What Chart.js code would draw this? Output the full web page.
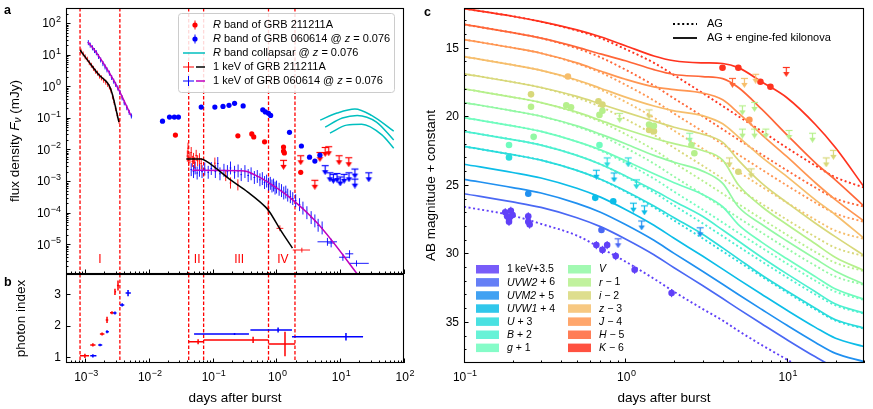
<!DOCTYPE html>
<html>
<head>
<meta charset="utf-8">
<script src="https://cdn.jsdelivr.net/npm/chart.js@4.4.1/dist/chart.umd.min.js"></script>
<style>
  html, body { margin: 0; padding: 0; background: #fff; }
  #wrap { position: relative; width: 873px; height: 409px; overflow: hidden; }
  canvas { position: absolute; }
</style>
</head>
<body>
<div id="wrap">
  <canvas id="panelA" width="420" height="280" style="left:0;top:0"></canvas>
  <canvas id="panelB" width="420" height="139" style="left:0;top:270px"></canvas>
  <canvas id="panelC" width="453" height="409" style="left:420px;top:0"></canvas>
</div>
<script>
const FONT = '"Liberation Sans", Arial, Helvetica, sans-serif';
Chart.defaults.font.family = FONT;

// ---------- panel a : flux density (days, mJy) ----------
const phaseEdges = [8.3e-4, 3.5e-3, 0.042, 0.072, 0.75, 1.95];
const phaseNames = ['I', 'II', 'III', 'IV'];
const phaseNameDays = [1.7e-3, 0.057, 0.26, 1.26];
const phaseNameFlux = 3.2e-6;

// 1 keV of GRB 211211A  ([t, f] or [t, f, tLo, tHi, fLo, fHi])
const xrt211Early = [[8.6e-4, 13], [9.3e-4, 10.5], [1.0e-3, 8.5], [1.08e-3, 7.2], [1.16e-3, 5.6], [1.25e-3, 4.6],
  [1.35e-3, 3.7], [1.45e-3, 3.0], [1.56e-3, 2.6], [1.68e-3, 2.1], [1.8e-3, 1.85], [1.95e-3, 1.55], [2.1e-3, 1.35],
  [2.25e-3, 1.15], [2.4e-3, 0.95], [2.55e-3, 0.72], [2.7e-3, 0.46], [2.85e-3, 0.31], [3.0e-3, 0.2], [3.2e-3, 0.12], [3.4e-3, 0.078]];
const xrt211Late = [[0.040, 6.2e-3], [0.041, 1.1e-2], [0.042, 4.5e-3], [0.044, 5.5e-3], [0.046, 8e-3], [0.048, 4.2e-3],
  [0.050, 5.2e-3], [0.052, 3.8e-3], [0.055, 6.5e-3], [0.058, 4.4e-3], [0.062, 5.1e-3], [0.066, 3.6e-3], [0.108, 3.7e-3],
  [0.16, 1.5e-3], [0.19, 8.7e-4], [0.248, 7.6e-4],
  [0.74, 1.4e-4, 0.70, 0.78, 9e-5, 2.1e-4], [1.13, 3.2e-5, 1.0, 1.28, 2.6e-5, 4e-5], [2.5, 6.6e-6, 1.8, 3.36, 5.5e-6, 7.8e-6]];
const model211Early = [[8.3e-4, 14], [1.15e-3, 5.8], [1.65e-3, 2.26], [2.36e-3, 1.09], [2.63e-3, 0.61], [3.38e-3, 0.074]];
const model211Late = [[0.0385, 5.0e-3], [0.066, 5.0e-3], [0.08, 4.2e-3], [0.193, 1.07e-3], [0.355, 4.5e-4], [0.676, 1.5e-4],
  [0.78, 1.05e-4], [1.16, 2.8e-5], [1.78, 7.6e-6]];

// 1 keV of GRB 060614 @ z = 0.076
const xrt060Early = [[1.12e-3, 24], [1.2e-3, 20], [1.3e-3, 16.5], [1.4e-3, 13.5], [1.5e-3, 11.5], [1.62e-3, 8.8], [1.75e-3, 6.8],
  [1.9e-3, 5.2], [2.05e-3, 4.1], [2.2e-3, 3.3], [2.4e-3, 2.6], [2.6e-3, 1.9], [2.8e-3, 1.45], [3.0e-3, 1.15], [3.25e-3, 0.88],
  [3.5e-3, 0.64], [3.8e-3, 0.43], [4.1e-3, 0.3], [4.5e-3, 0.21], [4.9e-3, 0.15], [5.3e-3, 0.115]];
const xrt060Late = [[0.046, 2.3e-3], [0.05, 2.0e-3], [0.053, 2.6e-3], [0.057, 1.8e-3], [0.062, 2.2e-3], [0.068, 2.0e-3],
  [0.075, 2.4e-3], [0.085, 1.9e-3], [0.095, 2.5e-3], [0.11, 2.0e-3], [0.12, 3.6e-3], [0.13, 1.7e-3], [0.15, 2.2e-3],
  [0.17, 2.0e-3], [0.19, 2.6e-3], [0.22, 1.9e-3], [0.25, 2.1e-3], [0.28, 1.6e-3], [0.32, 2.0e-3], [0.36, 1.5e-3],
  [0.4, 1.7e-3], [0.45, 1.3e-3], [0.5, 1.4e-3], [0.55, 1.1e-3], [0.6, 1.2e-3], [0.65, 9e-4], [0.7, 1.0e-3], [0.75, 8e-4],
  [0.8, 8.5e-4], [0.85, 7e-4], [0.9, 7.5e-4], [0.95, 6e-4], [1.0, 6.5e-4], [1.1, 5.5e-4], [1.2, 5e-4], [1.3, 4.2e-4],
  [1.4, 4.5e-4], [1.5, 3.6e-4], [1.65, 3.2e-4], [1.8, 2.8e-4], [2.0, 2.4e-4], [2.3, 1.8e-4], [2.6, 1.4e-4], [3.0, 1.0e-4],
  [3.5, 7e-5], [4.0, 5.5e-5], [4.5, 4e-5], [5.2, 3.3e-5],
  [6.3, 1.2e-5, 4.4, 8.9, 9e-6, 1.6e-5], [7.2, 1.1e-5, 6.3, 8.2, 8e-6, 1.5e-5], [11, 3.9e-6, 9.6, 14, 3e-6, 5e-6],
  [14, 5e-6, 12, 16, 3.6e-6, 6.5e-6], [18, 2.5e-6, 14, 28, 2e-6, 3.1e-6]];
const model060Early = [[1.11e-3, 25], [1.48e-3, 12], [2.36e-3, 2.8], [3.38e-3, 0.76], [5.2e-3, 0.12]];
const model060Late = [[0.048, 2.2e-3], [0.32, 2.1e-3], [0.45, 1.6e-3], [0.65, 1.07e-3], [1.66, 2.9e-4], [4.36, 4.7e-5],
  [18.2, 1.2e-6], [25, 5e-7]];

// R band optical
const rBand211 = [[0.026, 0.0286], [0.248, 0.027], [0.41, 0.031], [0.44, 0.025], [0.65, 0.0175], [1.29, 0.012],
  [1.29, 8.9e-3], [1.33, 7.8e-3], [2.4, 1.9e-3]];
const rBand211Lim = [[1.29, 4.7e-3], [2.4, 6.6e-3], [4.8, 8.3e-3], [5.8, 0.012], [6.6, 0.0127], [9.6, 6.6e-3],
  [13.6, 5.7e-3], [4.0, 1.1e-3]];
const rBand060 = [[0.0163, 0.079], [0.021, 0.106], [0.025, 0.106], [0.029, 0.106], [0.066, 0.22], [0.108, 0.22],
  [0.145, 0.23], [0.18, 0.25], [0.22, 0.29], [0.30, 0.24], [0.61, 0.18], [0.67, 0.155], [0.75, 0.14], [0.81, 0.12],
  [1.6, 0.035], [2.46, 0.0129], [3.3, 5.7e-3], [4.0, 4.3e-3], [4.8, 6.6e-3]];
const rBand060Lim = [[5.8, 3.2e-3], [6.9, 1.9e-3], [7.8, 1.7e-3], [8.9, 1.8e-3], [10, 1.4e-3], [11.5, 1.7e-3],
  [13.7, 1.9e-3], [17, 2.5e-3], [17, 1.2e-3], [28, 1.9e-3]];
const collapsar1 = [[4.85, 0.085], [8.9, 0.142], [17, 0.19], [31, 0.12], [69, 0.038]];
const collapsar2 = [[5.8, 0.051], [10.8, 0.099], [18.5, 0.12], [37, 0.074], [69, 0.02]];
const collapsar3 = [[6.9, 0.033], [12.6, 0.059], [21.7, 0.063], [45, 0.029], [69, 0.011]];

// ---------- panel b : photon index  [t, index, tLo, tHi, iLo, iHi] ----------
const photon211 = [[9.9e-4, 1.03, 8.3e-4, 1.15e-3, 0.96, 1.10], [1.32e-3, 1.38, 1.2e-3, 1.45e-3, 1.33, 1.43],
  [1.84e-3, 1.73, 1.7e-3, 2.0e-3, 1.68, 1.78], [2.2e-3, 2.18, 2.1e-3, 2.3e-3, 2.08, 2.28],
  [2.63e-3, 2.41, 2.45e-3, 2.8e-3, 2.36, 2.46], [2.93e-3, 3.08, 2.85e-3, 3.05e-3, 2.98, 3.18],
  [3.27e-3, 3.28, 3.15e-3, 3.4e-3, 3.12, 3.44], [0.059, 1.48, 0.042, 0.072, 1.40, 1.56],
  [0.43, 1.54, 0.072, 0.75, 1.44, 1.64], [1.36, 1.41, 0.75, 1.95, 1.02, 1.80]];
const photon060 = [[1.32e-3, 1.03, 1.2e-3, 1.5e-3, 0.98, 1.08], [1.71e-3, 1.38, 1.6e-3, 1.85e-3, 1.34, 1.42],
  [2.2e-3, 1.80, 2.1e-3, 2.35e-3, 1.75, 1.85], [2.93e-3, 2.40, 2.75e-3, 3.1e-3, 2.35, 2.45],
  [3.8e-3, 2.66, 3.5e-3, 4.1e-3, 2.61, 2.71], [4.7e-3, 3.04, 4.3e-3, 5.2e-3, 2.94, 3.14],
  [0.22, 1.73, 0.051, 0.37, 1.70, 1.76], [1.06, 1.86, 0.39, 1.75, 1.78, 1.94], [12.3, 1.64, 1.75, 22.8, 1.52, 1.76]];

// ---------- panel c : AB magnitude + constant ----------
const magDays = [0.1, 0.2, 0.3, 0.5, 0.7, 1, 1.5, 2, 3, 4, 5, 7, 10, 15, 20, 30];
// afterglow only (dotted)
const agKeV = [26.6, 27.25, 27.85, 28.7, 29.6, 30.6, 31.85, 32.8, 34.05, 34.9, 35.65, 36.7, 37.75, 39.0, 39.8, 40.9];
const agU = [22.2, 22.8, 23.2, 23.95, 24.6, 25.5, 26.65, 27.6, 28.9, 29.85, 30.6, 31.7, 32.85, 34.1, 34.9, 35.5];
const agB = [21.1, 21.7, 22.1, 22.85, 23.5, 24.4, 25.55, 26.5, 27.8, 28.75, 29.5, 30.6, 31.75, 33.0, 33.8, 34.4];
const agG = [20.1, 20.7, 21.1, 21.85, 22.5, 23.4, 24.55, 25.5, 26.8, 27.75, 28.5, 29.6, 30.75, 32.0, 32.8, 33.4];
const agV = [19.0, 19.6, 20.0, 20.75, 21.4, 22.3, 23.45, 24.4, 25.7, 26.65, 27.4, 28.5, 29.65, 30.9, 31.7, 32.3];
const agR = [18.0, 18.6, 19.0, 19.75, 20.4, 21.3, 22.45, 23.4, 24.7, 25.65, 26.4, 27.5, 28.65, 29.9, 30.7, 31.3];
const agI = [16.9, 17.5, 17.9, 18.65, 19.3, 20.2, 21.35, 22.3, 23.6, 24.55, 25.3, 26.4, 27.55, 28.8, 29.6, 30.2];
const agZ = [15.65, 16.25, 16.65, 17.4, 18.05, 18.95, 20.1, 21.05, 22.35, 23.3, 24.05, 25.15, 26.3, 27.55, 28.35, 28.95];
const agJ = [14.4, 15.0, 15.4, 16.15, 16.8, 17.7, 18.85, 19.8, 21.1, 22.05, 22.8, 23.9, 25.05, 26.3, 27.1, 27.7];
const agH = [13.3, 13.9, 14.3, 15.05, 15.7, 16.6, 17.75, 18.7, 20.0, 20.95, 21.7, 22.8, 23.95, 25.2, 26.0, 26.6];
const agK = [12.15, 12.7, 13.1, 13.75, 14.3, 15.1, 16.1, 17.0, 18.3, 19.25, 20.0, 21.1, 22.3, 23.6, 24.45, 25.2];
// afterglow + engine-fed kilonova (solid)
const knUVW2 = [25.65, 26.25, 26.65, 27.4, 28.05, 28.95, 30.1, 31.05, 32.35, 33.3, 34.05, 35.15, 36.3, 37.55, 38.35, 38.95];
const knUVM2 = [24.6, 25.2, 25.6, 26.35, 27.0, 27.9, 29.05, 30.0, 31.3, 32.25, 33.0, 34.1, 35.25, 36.5, 37.3, 37.9];
const knUVW1 = [23.5, 24.1, 24.5, 25.25, 25.9, 26.8, 27.95, 28.9, 30.2, 31.15, 31.9, 33.0, 34.15, 35.4, 36.2, 36.8];
const knU = [22.2, 22.8, 23.2, 23.95, 24.6, 25.45, 26.55, 27.4, 28.6, 29.6, 30.4, 31.6, 32.75, 34.0, 34.85, 35.45];
const knB = [21.1, 21.7, 22.1, 22.85, 23.5, 24.35, 25.4, 26.2, 27.3, 28.3, 29.1, 30.3, 31.5, 32.8, 33.7, 34.35];
const knG = [20.1, 20.7, 21.1, 21.85, 22.45, 23.25, 24.2, 24.85, 25.7, 26.6, 27.9, 29.2, 30.4, 31.7, 32.6, 33.35];
const knV = [19.0, 19.6, 20.0, 20.7, 21.3, 22.0, 22.85, 23.35, 24.0, 24.9, 26.6, 27.9, 29.1, 30.4, 31.3, 32.25];
const knR = [18.0, 18.6, 19.0, 19.7, 20.3, 20.95, 21.6, 22.0, 22.5, 23.2, 25.0, 26.6, 27.9, 29.3, 30.3, 31.25];
const knI = [16.9, 17.5, 17.9, 18.55, 19.1, 19.7, 20.35, 20.8, 21.3, 21.9, 23.2, 24.9, 26.3, 27.8, 28.8, 30.15];
const knZ = [15.65, 16.25, 16.65, 17.35, 17.95, 18.6, 19.25, 19.6, 19.95, 20.55, 21.5, 23.0, 24.4, 26.1, 27.2, 28.9];
const knJ = [14.4, 15.0, 15.4, 16.1, 16.7, 17.3, 17.85, 18.05, 18.3, 18.8, 19.75, 21.35, 22.95, 24.85, 26.1, 27.65];
const knH = [13.3, 13.9, 14.3, 14.95, 15.45, 15.95, 16.6, 16.95, 17.1, 17.25, 17.9, 19.5, 21.35, 23.4, 24.65, 26.55];
const knK = [12.15, 12.7, 13.1, 13.7, 14.2, 14.85, 15.6, 15.95, 16.1, 16.15, 16.45, 17.5, 18.65, 20.6, 22.3, 25.15];

const bandKeys = ['keV', 'UVW2', 'UVM2', 'UVW1', 'U', 'B', 'g', 'V', 'r', 'i', 'z', 'J', 'H', 'K'];
const bandColors = ['#6040f8', '#4a68f4', '#2090f0', '#0cbde8', '#2adcdc', '#4cf0d0', '#70fcbe', '#92f8a4',
  '#b6f08c', '#d8d87a', '#f6be6c', '#ff9652', '#ff6638', '#ff321e'];
const bandLabels = [
  [['1\u2009keV+3.5', 'n']], [['UVW2', 'i'], [' + 6', 'n']], [['UVM2', 'i'], [' + 5', 'n']], [['UVW1', 'i'], [' + 4', 'n']],
  [['U', 'i'], [' + 3', 'n']], [['B', 'i'], [' + 2', 'n']], [['g', 'i'], [' + 1', 'n']], [['V', 'i']],
  [['r', 'i'], [' \u2212 1', 'n']], [['i', 'i'], [' \u2212 2', 'n']], [['z', 'i'], [' \u2212 3', 'n']],
  [['J', 'i'], [' \u2212 4', 'n']], [['H', 'i'], [' \u2212 5', 'n']], [['K', 'i'], [' \u2212 6', 'n']]];
const agCurves = [agKeV, null, null, null, agU, agB, agG, agV, agR, agI, agZ, agJ, agH, agK];
const knCurves = [null, knUVW2, knUVM2, knUVW1, knU, knB, knG, knV, knR, knI, knZ, knJ, knH, knK];

// observed points [band, days, mag]
const magDetections = [
  ['K', 3.99, 16.46], ['K', 5.0, 16.46], ['K', 6.85, 17.48], ['K', 7.9, 17.85], ['J', 5.85, 20.25], ['z', 0.44, 17.1],
  ['i', 0.26, 18.4], ['i', 0.68, 18.9], ['i', 0.72, 19.15], ['i', 1.4, 21.0], ['i', 1.5, 21.1], ['i', 5.0, 24.05],
  ['r', 0.26, 19.3], ['r', 0.43, 19.2], ['r', 0.46, 19.35], ['r', 0.69, 19.9], ['r', 0.72, 19.6], ['r', 1.4, 20.6],
  ['r', 1.5, 20.7], ['r', 2.56, 22.1], ['r', 2.67, 22.7], ['V', 0.27, 21.5], ['g', 0.19, 22.1], ['g', 0.69, 22.1],
  ['U', 0.19, 23.0], ['UVM2', 0.25, 25.65], ['UVW1', 0.65, 25.95], ['UVW1', 0.84, 26.2], ['UVW2', 0.71, 28.3],
  ['keV', 0.18, 27.0], ['keV', 0.185, 27.3], ['keV', 0.19, 27.5], ['keV', 0.195, 26.9], ['keV', 0.2, 27.2],
  ['keV', 0.19, 27.7], ['keV', 0.25, 27.3], ['keV', 0.25, 27.7], ['keV', 0.255, 27.9], ['keV', 0.66, 29.4],
  ['keV', 0.72, 29.75], ['keV', 0.77, 29.4], ['keV', 0.87, 30.2], ['keV', 1.14, 31.2], ['keV', 1.93, 32.9]];
const magLimits = [
  ['K', 9.9, 16.4], ['H', 4.6, 17.2], ['z', 5.45, 17.2], ['z', 6.4, 16.9], ['r', 5.3, 19.2], ['r', 6.3, 18.95],
  ['r', 0.92, 19.75], ['r', 10.3, 21.0], ['r', 14.4, 21.2], ['r', 5.3, 20.9], ['r', 6.3, 20.9], ['r', 7.4, 20.9],
  ['V', 2.5, 21.2], ['i', 4.4, 23.0], ['i', 6.0, 23.8], ['i', 17.5, 23.0], ['i', 19.4, 22.45], ['i', 1.4, 19.5],
  ['U', 0.77, 23.0], ['U', 1.04, 23.0], ['U', 1.17, 24.6], ['UVW1', 0.66, 23.9], ['UVW1', 0.85, 24.1],
  ['UVW1', 1.12, 26.3], ['UVW1', 1.31, 26.5], ['UVM2', 1.26, 27.6], ['UVM2', 2.9, 28.1], ['UVW2', 0.9, 28.9]];

// ---------- helpers ----------
function withErr(rows, tFac, fFac) {
  return rows.map(r => r.length > 2
    ? { x: r[0], y: r[1], xl: r[2], xh: r[3], yl: r[4], yh: r[5] }
    : { x: r[0], y: r[1], xl: r[0] / tFac, xh: r[0] * tFac, yl: r[1] / fFac, yh: r[1] * fFac });
}
const xy = rows => rows.map(r => ({ x: r[0], y: r[1] }));

function ulMarker(color, w, len) {
  const c = document.createElement('canvas');
  c.width = w; c.height = len * 2;
  const g = c.getContext('2d');
  g.strokeStyle = color; g.fillStyle = color; g.lineWidth = 1.2;
  const mid = w / 2;
  g.beginPath(); g.moveTo(1, len + 0.5); g.lineTo(w - 1, len + 0.5); g.stroke();
  g.beginPath(); g.moveTo(mid, len); g.lineTo(mid, len + len - 4); g.stroke();
  g.beginPath(); g.moveTo(mid - 3.2, len + len - 5); g.lineTo(mid + 3.2, len + len - 5); g.lineTo(mid, len + len); g.closePath(); g.fill();
  return c;
}

function lineDs(rows, color, width, dash) {
  return { data: xy(rows), showLine: true, borderColor: color, borderWidth: width, borderDash: dash || [],
    pointRadius: 0, cubicInterpolationMode: 'monotone', fill: false };
}
function crossDs(rows, color, width) {
  return { data: rows, showLine: false, pointRadius: 0, errorBars: { color, width } };
}
function dotDs(rows, color, r) {
  return { data: rows, showLine: false, pointRadius: r, pointBackgroundColor: color, pointBorderWidth: 0,
    errorBars: { color, width: 1 } };
}
function limitDs(rows, color, w, len) {
  return { data: xy(rows), showLine: false, pointStyle: ulMarker(color, w, len), pointRadius: 5 };
}

function logTicks(min, max) {
  const major = [], minor = [];
  for (let e = Math.floor(Math.log10(min)) - 1; e <= Math.ceil(Math.log10(max)); e++) {
    for (let m = 1; m < 10; m++) {
      const v = m * Math.pow(10, e);
      if (v < min * 0.999 || v > max * 1.001) continue;
      (m === 1 ? major : minor).push(v);
    }
  }
  return { major, minor };
}

function sciLabel(ctx, exp, x, y, size, align) {
  const sup = Math.round(size * 0.72);
  ctx.font = size + 'px ' + FONT;
  const w1 = ctx.measureText('10').width;
  const es = exp < 0 ? '\u2212' + Math.abs(exp) : String(exp);
  ctx.font = sup + 'px ' + FONT;
  const w2 = ctx.measureText(es).width;
  const tw = w1 + w2 + 0.5;
  const left = align === 'right' ? x - tw : x - tw / 2;
  ctx.textAlign = 'left'; ctx.textBaseline = 'alphabetic';
  const base = y + size * 0.36;
  ctx.font = size + 'px ' + FONT; ctx.fillText('10', left, base);
  ctx.font = sup + 'px ' + FONT; ctx.fillText(es, left + w1 + 0.5, base - size * 0.45);
}

function rich(ctx, parts, x, y, size, align) {
  const fontFor = s => (s === 'i' || s === 's' ? 'italic ' : '') + (s === 's' ? Math.round(size * 0.72) : size) + 'px ' + FONT;
  let w = 0;
  parts.forEach(([t, s]) => { ctx.font = fontFor(s); w += ctx.measureText(t).width; });
  let cx = align === 'center' ? x - w / 2 : (align === 'right' ? x - w : x);
  ctx.textAlign = 'left'; ctx.textBaseline = 'middle';
  parts.forEach(([t, s]) => {
    ctx.font = fontFor(s);
    ctx.fillText(t, cx, s === 's' ? y + size * 0.25 : y);
    cx += ctx.measureText(t).width;
  });
}

function drawAxes(chart, o) {
  const { ctx, chartArea: a, scales: { x, y } } = chart;
  ctx.save();
  ctx.strokeStyle = '#000'; ctx.fillStyle = '#000'; ctx.lineWidth = 1;
  const seg = (x1, y1, x2, y2) => { ctx.beginPath(); ctx.moveTo(x1, y1); ctx.lineTo(x2, y2); ctx.stroke(); };
  const px = v => Math.round(x.getPixelForValue(v)) + 0.5;
  const py = v => Math.round(y.getPixelForValue(v)) + 0.5;
  o.xMajor.forEach(v => seg(px(v), a.bottom, px(v), a.bottom - 4.5));
  o.xMinor.forEach(v => seg(px(v), a.bottom, px(v), a.bottom - 2.5));
  o.yMajor.forEach(v => seg(a.left, py(v), a.left + 4.5, py(v)));
  o.yMinor.forEach(v => seg(a.left, py(v), a.left + 2.5, py(v)));
  ctx.lineWidth = 1.1;
  ctx.strokeRect(a.left + 0.5, a.top + 0.5, a.right - a.left - 1, a.bottom - a.top - 1);
  if (o.xLabels) o.xMajor.forEach(v => sciLabel(ctx, Math.round(Math.log10(v)), x.getPixelForValue(v) + 1, o.xLabelY, 12, 'center'));
  if (o.yLabels) o.yMajor.forEach(v => {
    const yy = y.getPixelForValue(v);
    if (o.yLog) sciLabel(ctx, Math.round(Math.log10(v)), a.left - 5, yy, 12, 'right');
    else { ctx.font = '12px ' + FONT; ctx.textAlign = 'right'; ctx.textBaseline = 'middle'; ctx.fillText(String(v), a.left - 5, yy + 0.5); }
  });
  if (o.xTitle) { ctx.font = '13.5px ' + FONT; ctx.textAlign = 'center'; ctx.textBaseline = 'middle'; ctx.fillText(o.xTitle, (a.left + a.right) / 2, o.xTitleY); }
  if (o.yTitle) {
    ctx.save(); ctx.translate(o.yTitleX, (a.top + a.bottom) / 2); ctx.rotate(-Math.PI / 2);
    rich(ctx, o.yTitle, 0, 0, 13.5, 'center'); ctx.restore();
  }
  if (o.letter) { ctx.font = 'bold 12.5px ' + FONT; ctx.textAlign = 'left'; ctx.textBaseline = 'middle'; ctx.fillText(o.letter[0], o.letter[1], o.letter[2]); }
  ctx.restore();
}

function drawPhaseEdges(chart) {
  const { ctx, chartArea: a, scales: { x } } = chart;
  ctx.save();
  ctx.strokeStyle = 'rgb(255,0,0)'; ctx.lineWidth = 1.3; ctx.setLineDash([3.5, 2]);
  phaseEdges.forEach(v => {
    const p = x.getPixelForValue(v);
    ctx.beginPath(); ctx.moveTo(p, a.top); ctx.lineTo(p, a.bottom); ctx.stroke();
  });
  ctx.restore();
}

const errorBarPlugin = {
  id: 'errorBars',
  beforeDatasetDraw(chart, args) {
    const ds = chart.data.datasets[args.index];
    if (!ds.errorBars) return;
    const { ctx, chartArea: a, scales: { x, y } } = chart;
    ctx.save();
    ctx.beginPath(); ctx.rect(a.left, a.top, a.right - a.left, a.bottom - a.top); ctx.clip();
    ctx.strokeStyle = ds.errorBars.color; ctx.lineWidth = ds.errorBars.width;
    ds.data.forEach(p => {
      const px = x.getPixelForValue(p.x), py = y.getPixelForValue(p.y);
      ctx.beginPath();
      if (p.xl !== undefined) { ctx.moveTo(x.getPixelForValue(p.xl), py); ctx.lineTo(x.getPixelForValue(p.xh), py); }
      if (p.yl !== undefined) { ctx.moveTo(px, y.getPixelForValue(p.yl)); ctx.lineTo(px, y.getPixelForValue(p.yh)); }
      ctx.stroke();
    });
    ctx.restore();
  }
};
Chart.register(errorBarPlugin);

const baseOptions = (padding, xs, ys) => ({
  responsive: false, animation: false, devicePixelRatio: 1, events: [],
  layout: { padding },
  scales: { x: Object.assign({ display: false }, xs), y: Object.assign({ display: false }, ys) },
  plugins: { legend: { display: false }, tooltip: { enabled: false } }
});

// ---------- panel a ----------
const A_X = { type: 'logarithmic', min: 5e-4, max: 100 };
const ticksAX = logTicks(5e-4, 100);
const ticksAY = logTicks(1.15e-6, 300);

new Chart(document.getElementById('panelA'), {
  type: 'scatter',
  data: { datasets: [
    lineDs(model211Early, '#000000', 1.5), lineDs(model211Late, '#000000', 1.5),
    lineDs(model060Early, '#bf00bf', 1.5), lineDs(model060Late, '#bf00bf', 1.5),
    lineDs(collapsar1, '#00bfbf', 1.5), lineDs(collapsar2, '#00bfbf', 1.5), lineDs(collapsar3, '#00bfbf', 1.5),
    dotDs(withErr(rBand211, 1, 1.12), '#ff0000', 2.6), dotDs(withErr(rBand060, 1, 1.12), '#0000ff', 2.6),
    limitDs(rBand211Lim, '#ff0000', 9, 10), limitDs(rBand060Lim, '#0000ff', 9, 10),
    crossDs(withErr(xrt211Early, 1.03, 1.2), '#ff0000', 0.9), crossDs(withErr(xrt211Late, 1.03, 1.5), '#ff0000', 0.9),
    crossDs(withErr(xrt060Early, 1.03, 1.2), '#0000ff', 0.9), crossDs(withErr(xrt060Late, 1.03, 1.6), '#0000ff', 0.9)
  ] },
  options: baseOptions({ left: 66, right: 16, top: 8, bottom: 6 }, A_X, { type: 'logarithmic', min: 1.15e-6, max: 300 }),
  plugins: [{
    id: 'panelA',
    beforeDatasetsDraw(chart) {
      drawPhaseEdges(chart);
      const { ctx, scales: { x, y } } = chart;
      ctx.save(); ctx.fillStyle = '#ff0000'; ctx.font = '12px ' + FONT; ctx.textAlign = 'center'; ctx.textBaseline = 'middle';
      phaseNames.forEach((n, i) => ctx.fillText(n, x.getPixelForValue(phaseNameDays[i]), y.getPixelForValue(phaseNameFlux)));
      ctx.restore();
    },
    afterDraw(chart) {
      drawAxes(chart, {
        xMajor: ticksAX.major, xMinor: ticksAX.minor, yMajor: ticksAY.major, yMinor: ticksAY.minor,
        xLabels: false, yLabels: true, yLog: true,
        yTitle: [['flux density ', 'n'], ['F', 'i'], ['\u03bd', 's'], [' (mJy)', 'n']], yTitleX: 15,
        letter: ['a', 4, 11]
      });
      // legend
      const ctx = chart.ctx;
      ctx.save();
      ctx.fillStyle = 'rgba(255,255,255,0.85)'; ctx.strokeStyle = '#cccccc'; ctx.lineWidth = 1;
      ctx.beginPath(); ctx.roundRect(178.5, 13.5, 216, 79, 3); ctx.fill(); ctx.stroke();
      const rows = [25, 39, 53, 67, 81];
      ctx.lineWidth = 1;
      [['#ff0000', rows[0]], ['#0000ff', rows[1]]].forEach(([c, yy]) => {
        ctx.strokeStyle = c; ctx.fillStyle = c;
        ctx.beginPath(); ctx.moveTo(195, yy - 4.5); ctx.lineTo(195, yy + 4.5); ctx.stroke();
        ctx.beginPath(); ctx.arc(195, yy, 2.6, 0, Math.PI * 2); ctx.fill();
      });
      ctx.strokeStyle = '#00bfbf'; ctx.lineWidth = 1.5;
      ctx.beginPath(); ctx.moveTo(183, rows[2]); ctx.lineTo(205, rows[2]); ctx.stroke();
      [['#ff0000', '#000000', rows[3]], ['#0000ff', '#bf00bf', rows[4]]].forEach(([c1, c2, yy]) => {
        ctx.strokeStyle = c1; ctx.lineWidth = 1;
        ctx.beginPath(); ctx.moveTo(183, yy); ctx.lineTo(194, yy); ctx.moveTo(188.5, yy - 5); ctx.lineTo(188.5, yy + 5); ctx.stroke();
        ctx.strokeStyle = c2; ctx.lineWidth = 1.5;
        ctx.beginPath(); ctx.moveTo(196, yy); ctx.lineTo(205, yy); ctx.stroke();
      });
      ctx.fillStyle = '#000';
      rich(ctx, [['R', 'i'], [' band of GRB 211211A', 'n']], 213, rows[0], 11, 'left');
      rich(ctx, [['R', 'i'], [' band of GRB 060614 @ ', 'n'], ['z', 'i'], [' = 0.076', 'n']], 213, rows[1], 11, 'left');
      rich(ctx, [['R', 'i'], [' band collapsar @ ', 'n'], ['z', 'i'], [' = 0.076', 'n']], 213, rows[2], 11, 'left');
      rich(ctx, [['1 keV of GRB 211211A', 'n']], 213, rows[3], 11, 'left');
      rich(ctx, [['1 keV of GRB 060614 @ ', 'n'], ['z', 'i'], [' = 0.076', 'n']], 213, rows[4], 11, 'left');
      ctx.restore();
    }
  }]
});

// ---------- panel b ----------
new Chart(document.getElementById('panelB'), {
  type: 'scatter',
  data: { datasets: [
    crossDs(withErr(photon060, 1, 1), '#0000ff', 1.5),
    crossDs(withErr(photon211, 1, 1), '#ff0000', 1.5)
  ] },
  options: baseOptions({ left: 66, right: 16, top: 4, bottom: 46 }, A_X, { type: 'linear', min: 0.8, max: 3.65 }),
  plugins: [{
    id: 'panelB',
    beforeDatasetsDraw(chart) { drawPhaseEdges(chart); },
    afterDraw(chart) {
      drawAxes(chart, {
        xMajor: ticksAX.major, xMinor: ticksAX.minor, yMajor: [1, 2, 3], yMinor: [],
        xLabels: true, xLabelY: 107, yLabels: true, yLog: false,
        xTitle: 'days after burst', xTitleY: 128,
        yTitle: [['photon index', 'n']], yTitleX: 21,
        letter: ['b', 4, 13]
      });
    }
  }]
});

// ---------- panel c ----------
const ticksCX = logTicks(0.1, 30);
const magMajor = [15, 20, 25, 30, 35];
const magMinor = [13, 14, 16, 17, 18, 19, 21, 22, 23, 24, 26, 27, 28, 29, 31, 32, 33, 34, 36, 37];
const curveRows = arr => arr.map((m, i) => [magDays[i], m]);

const dsC = [];
bandKeys.forEach((b, i) => {
  const err = b === 'keV' ? 0.3 : 0.12;
  const det = magDetections.filter(r => r[0] === b).map(r => [r[1], r[2], r[1], r[1], r[2] - err, r[2] + err]);
  if (det.length) dsC.push(dotDs(withErr(det, 1, 1), bandColors[i], 3.3));
  const lim = magLimits.filter(r => r[0] === b).map(r => [r[1], r[2]]);
  if (lim.length) dsC.push(limitDs(lim, bandColors[i], 9, 10));
});
bandKeys.forEach((b, i) => {
  if (knCurves[i]) dsC.push(lineDs(curveRows(knCurves[i]), bandColors[i], 1.7));
  if (agCurves[i]) dsC.push(lineDs(curveRows(agCurves[i]), bandColors[i], 1.9, [2, 2.6]));
});

new Chart(document.getElementById('panelC'), {
  type: 'scatter',
  data: { datasets: dsC },
  options: baseOptions({ left: 44, right: 9, top: 8, bottom: 46 },
    { type: 'logarithmic', min: 0.1, max: 30 }, { type: 'linear', min: 12.1, max: 38, reverse: true }),
  plugins: [{
    id: 'panelC',
    afterDraw(chart) {
      drawAxes(chart, {
        xMajor: ticksCX.major, xMinor: ticksCX.minor, yMajor: magMajor, yMinor: magMinor,
        xLabels: true, xLabelY: 377, yLabels: true, yLog: false,
        xTitle: 'days after burst', xTitleY: 398,
        yTitle: [['AB magnitude + constant', 'n']], yTitleX: 11,
        letter: ['c', 4, 13]
      });
      const ctx = chart.ctx;
      ctx.save();
      ctx.strokeStyle = '#000'; ctx.lineWidth = 1.8;
      ctx.setLineDash([2, 2.6]);
      ctx.beginPath(); ctx.moveTo(253, 24); ctx.lineTo(277, 24); ctx.stroke();
      ctx.setLineDash([]);
      ctx.beginPath(); ctx.moveTo(253, 38); ctx.lineTo(277, 38); ctx.stroke();
      ctx.fillStyle = '#000';
      rich(ctx, [['AG', 'n']], 287, 24, 11, 'left');
      rich(ctx, [['AG + engine-fed kilonova', 'n']], 287, 38, 11, 'left');
      bandKeys.forEach((b, i) => {
        const col = i < 7 ? 0 : 1, row = i % 7;
        const lx = col === 0 ? 56 : 148, ly = 269 + row * 13.1;
        ctx.globalAlpha = 0.85; ctx.fillStyle = bandColors[i];
        ctx.fillRect(lx, ly - 4, 23, 8.5);
        ctx.globalAlpha = 1; ctx.fillStyle = '#000';
        rich(ctx, bandLabels[i], lx + 31, ly + 0.5, 10.5, 'left');
      });
      ctx.restore();
    }
  }]
});
</script>
</body>
</html>
